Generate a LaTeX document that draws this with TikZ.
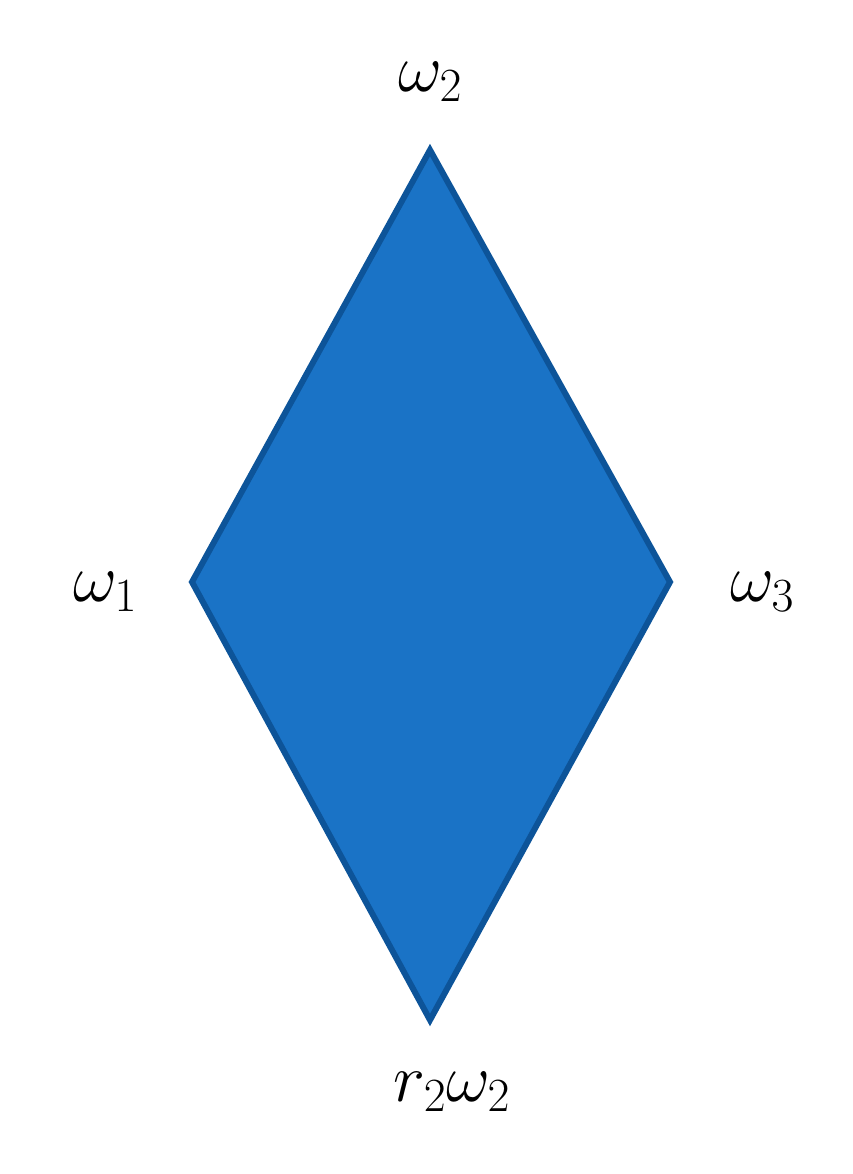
\documentclass[tikz,border=0pt]{standalone}
\usepackage{fix-cm}
\begin{document}
\begin{tikzpicture}[x=1pt,y=-1pt,
  lab/.style={inner sep=0pt,font=\fontsize{68}{80}\selectfont}]
\useasboundingbox (0,0) rectangle (853,1174);
\definecolor{fillb}{HTML}{1A73C6}
\definecolor{edgeb}{HTML}{0D5499}
\coordinate (t) at (430,150);
\coordinate (l) at (192,582);
\coordinate (r) at (670,582);
\coordinate (b) at (430,1020);
\draw[fill=fillb,draw=edgeb,line width=6pt,line join=miter] (t)--(r)--(b)--(l)--cycle;
\node[lab] (w2) at (430,82) {$\omega_2$};
\node[lab] (w1) at (105,592) {$\omega_1$};
\node[lab] (w3) at (762,592) {$\omega_3$};
\node[lab] (rw) at (452,1092) {$r_2\omega_2$};
\end{tikzpicture}
\end{document}
